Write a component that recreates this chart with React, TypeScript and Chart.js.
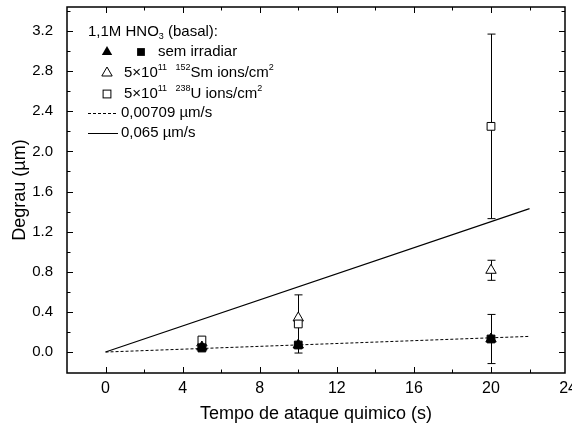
import React, { useEffect, useRef } from "react";
import { Chart, registerables } from "chart.js";

Chart.register(...registerables);

const xValues = [5, 10, 20];
const semTriangle = [0.05, 0.07, 0.13];
const semSquare = [0.04, 0.07, 0.13];
const semErr = [0, 0, 0.245];
const smValues = [0.09, 0.34, 0.815];
const smErr = [0, 0, 0.1];
const uValues = [0.12, 0.28, 2.25];
const uErr = [0, 0.29, 0.92];

const fitX = [0, 22];
const fitSlow = [0, 0.156];
const fitFast = [0, 1.43];

const xTicks = [0, 4, 8, 12, 16, 20, 24];
const yTicks = [0, 0.4, 0.8, 1.2, 1.6, 2.0, 2.4, 2.8, 3.2];

const FONT = "'Liberation Sans', Arial, sans-serif";

const pts = (ys: number[]) => xValues.map((x, i) => ({ x, y: ys[i] }));

const framePlugin = {
  id: "frameTicks",
  beforeDatasetsDraw(chart: any) {
    const ctx = chart.ctx;
    const xs = chart.scales.x;
    const ys = chart.scales.y;
    ctx.save();
    ctx.strokeStyle = "#000";
    ctx.lineWidth = 1;
    const bars: [number[], number[]][] = [
      [semSquare, semErr],
      [smValues, smErr],
      [uValues, uErr],
    ];
    bars.forEach(([vals, errs]) => {
      xValues.forEach((xv, i) => {
        const e = errs[i];
        if (!e) return;
        const px = Math.round(xs.getPixelForValue(xv)) + 0.5;
        const top = ys.getPixelForValue(vals[i] + e);
        const bot = ys.getPixelForValue(vals[i] - e);
        ctx.beginPath();
        ctx.moveTo(px, top);
        ctx.lineTo(px, bot);
        ctx.moveTo(px - 4, top);
        ctx.lineTo(px + 4, top);
        ctx.moveTo(px - 4, bot);
        ctx.lineTo(px + 4, bot);
        ctx.stroke();
      });
    });
    ctx.restore();
  },
  afterDraw(chart: any) {
    const ctx = chart.ctx;
    const { left, right, top, bottom } = chart.chartArea;
    const xs = chart.scales.x;
    const ys = chart.scales.y;
    ctx.save();
    ctx.strokeStyle = "#000";
    ctx.lineWidth = 1;
    ctx.beginPath();
    for (let v = -2; v <= xs.max + 1e-9; v += 2) {
      const major = Math.abs(v % 4) < 1e-9;
      const len = major ? 6 : 3.5;
      const px = Math.round(xs.getPixelForValue(v)) + 0.5;
      if (px <= left + 1 || px >= right - 1) continue;
      ctx.moveTo(px, bottom);
      ctx.lineTo(px, bottom - len);
      ctx.moveTo(px, top);
      ctx.lineTo(px, top + len);
    }
    for (let k = -1; k <= 17; k++) {
      const v = k * 0.2;
      if (v < ys.min || v > ys.max) continue;
      const major = k % 2 === 0;
      const len = major ? 6 : 3.5;
      const py = Math.round(ys.getPixelForValue(v)) + 0.5;
      if (py <= top + 1 || py >= bottom - 1) continue;
      ctx.moveTo(left, py);
      ctx.lineTo(left + len, py);
      ctx.moveTo(right, py);
      ctx.lineTo(right - len, py);
    }
    ctx.stroke();
    ctx.lineWidth = 1.5;
    ctx.strokeRect(left, top, right - left, bottom - top);

    // legend
    ctx.fillStyle = "#000";
    ctx.textBaseline = "middle";
    ctx.textAlign = "left";
    const big = `15px ${FONT}`;
    const small = `9px ${FONT}`;
    const seq = (x: number, y: number, parts: [string, number][]) => {
      let cx = x;
      parts.forEach(([t, off]) => {
        ctx.font = off === 0 ? big : small;
        ctx.fillText(t, cx, y + off);
        cx += ctx.measureText(t).width;
      });
    };
    seq(88, 32, [["1,1M HNO", 0], ["3", 5], [" (basal):", 0]]);
    const tri = (cx: number, cy: number, fill: boolean) => {
      const r = 6;
      ctx.beginPath();
      ctx.moveTo(cx, cy - r);
      ctx.lineTo(cx + r * 0.866, cy + r * 0.5);
      ctx.lineTo(cx - r * 0.866, cy + r * 0.5);
      ctx.closePath();
      if (fill) {
        ctx.fillStyle = "#000";
        ctx.fill();
      } else {
        ctx.fillStyle = "#fff";
        ctx.fill();
        ctx.lineWidth = 1;
        ctx.stroke();
        ctx.fillStyle = "#000";
      }
    };
    const sq = (cx: number, cy: number, fill: boolean) => {
      const s = 3.9;
      if (fill) {
        ctx.fillRect(cx - s, cy - s, 2 * s, 2 * s);
      } else {
        ctx.lineWidth = 1;
        ctx.fillStyle = "#fff";
        ctx.fillRect(cx - s, cy - s, 2 * s, 2 * s);
        ctx.strokeRect(cx - s, cy - s, 2 * s, 2 * s);
        ctx.fillStyle = "#000";
      }
    };
    tri(107, 52, true);
    sq(141, 52, true);
    seq(158, 52, [["sem irradiar", 0]]);
    tri(107, 73, false);
    seq(124, 73, [["5×10", 0], ["11", -5], ["  ", 0], ["152", -5], ["Sm ions/cm", 0], ["2", -5]]);
    sq(107, 94, false);
    seq(124, 94, [["5×10", 0], ["11", -5], ["  ", 0], ["238", -5], ["U ions/cm", 0], ["2", -5]]);
    ctx.lineWidth = 1;
    ctx.setLineDash([3, 2]);
    ctx.beginPath();
    ctx.moveTo(88, 113.5);
    ctx.lineTo(118, 113.5);
    ctx.stroke();
    ctx.setLineDash([]);
    ctx.beginPath();
    ctx.moveTo(88, 133.5);
    ctx.lineTo(118, 133.5);
    ctx.stroke();
    seq(121, 113, [["0,00709 µm/s", 0]]);
    seq(121, 133, [["0,065 µm/s", 0]]);
    ctx.restore();
  },
};

export default function App() {
  const ref = useRef<HTMLCanvasElement | null>(null);
  useEffect(() => {
    if (!ref.current) return;
    const markerBase = {
      type: "scatter" as const,
      showLine: false,
      borderColor: "#000",
      borderWidth: 1,
    };
    const chart = new Chart(ref.current, {
      type: "scatter",
      data: {
        datasets: [
          { ...markerBase, label: "sem irradiar (quadrado)", data: pts(semSquare), pointStyle: "rect", pointRadius: 5.5, backgroundColor: "#000" },
          { ...markerBase, label: "sem irradiar (triângulo)", data: pts(semTriangle), pointStyle: "triangle", pointRadius: 6, backgroundColor: "#000" },
          { ...markerBase, label: "U", data: pts(uValues), pointStyle: "rect", pointRadius: 5.5, backgroundColor: "#fff" },
          { ...markerBase, label: "Sm", data: pts(smValues), pointStyle: "triangle", pointRadius: 6, backgroundColor: "#fff" },
          {
            type: "line" as const,
            label: "0,00709",
            data: fitX.map((x, i) => ({ x, y: fitSlow[i] })),
            borderColor: "#000",
            borderWidth: 1,
            borderDash: [3, 2],
            pointRadius: 0,
            fill: false,
          },
          {
            type: "line" as const,
            label: "0,065",
            data: fitX.map((x, i) => ({ x, y: fitFast[i] })),
            borderColor: "#000",
            borderWidth: 1.2,
            pointRadius: 0,
            fill: false,
          },
        ] as any,
      },
      options: {
        animation: false,
        responsive: false,
        maintainAspectRatio: false,
        layout: { padding: { top: 6, right: 7, left: 0, bottom: 0 } },
        plugins: { legend: { display: false }, tooltip: { enabled: false } },
        scales: {
          x: {
            type: "linear",
            min: -2,
            max: 23.84,
            grid: { display: false, drawTicks: false },
            border: { display: false },
            afterBuildTicks: (s: any) => {
              s.ticks = xTicks.map((v) => ({ value: v }));
            },
            afterFit: (s: any) => {
              s.height = 57;
              s.paddingLeft = 0;
              s.paddingRight = 0;
            },
            ticks: {
              autoSkip: false,
              maxRotation: 0,
              padding: 6,
              color: "#000",
              font: { family: FONT, size: 16 },
              callback: (v: any) => String(v),
            },
            title: {
              display: true,
              text: "Tempo de ataque quimico (s)",
              color: "#000",
              font: { family: FONT, size: 18 },
              padding: { top: 0, bottom: 5 },
            },
          },
          y: {
            type: "linear",
            min: -0.209,
            max: 3.44,
            grid: { display: false, drawTicks: false },
            border: { display: false },
            afterBuildTicks: (s: any) => {
              s.ticks = yTicks.map((v) => ({ value: v }));
            },
            afterFit: (s: any) => {
              s.width = 67;
              s.paddingTop = 0;
              s.paddingBottom = 0;
            },
            ticks: {
              autoSkip: false,
              padding: 14,
              color: "#000",
              font: { family: FONT, size: 15 },
              callback: (v: any) => Number(v).toFixed(1),
            },
            title: {
              display: true,
              text: "Degrau (µm)",
              color: "#000",
              font: { family: FONT, size: 18 },
              padding: { top: 9, bottom: 0 },
            },
          },
        },
      },
      plugins: [framePlugin],
    });
    return () => chart.destroy();
  }, []);
  return (
    <div style={{ position: "fixed", left: 0, top: 0, width: 572, height: 430, background: "#fff" }}>
      <canvas ref={ref} width={572} height={430} style={{ display: "block" }} />
    </div>
  );
}
